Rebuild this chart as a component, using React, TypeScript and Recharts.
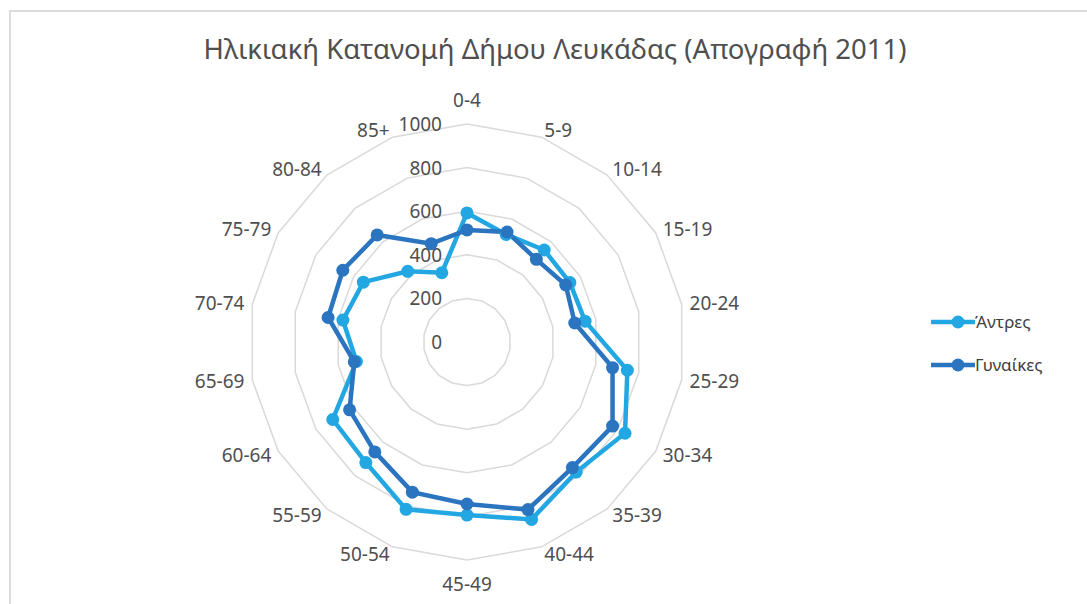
import React from "react";
import {
  RadarChart,
  Radar,
  PolarGrid,
  PolarAngleAxis,
  PolarRadiusAxis,
  Legend,
} from "recharts";

const ageGroups = [
  "0-4", "5-9", "10-14", "15-19", "20-24", "25-29", "30-34", "35-39", "40-44",
  "45-49", "50-54", "55-59", "60-64", "65-69", "70-74", "75-79", "80-84", "85+",
];
const men = [592, 525, 551, 545, 550, 747, 837, 779, 866, 794, 817, 722, 711, 515, 578, 549, 423, 338];
const women = [514, 537, 495, 523, 502, 678, 771, 752, 818, 743, 733, 658, 622, 525, 647, 658, 641, 480];
const radiusTicks = [0, 200, 400, 600, 800, 1000];

const seriesNames = ["Άντρες", "Γυναίκες"];
const seriesColors = ["#22a7e2", "#2a74c0"];

const data = ageGroups.map((g, i) => ({ group: g, men: men[i], women: women[i] }));

const CX = 467;
const CY = 342;
const FONT = "'Noto Sans', 'DejaVu Sans', sans-serif";
const TEXT = "#4f4f4f";

const AngleTick = (props: any) => {
  const { x, y, textAnchor, payload } = props;
  // top and bottom labels sit a bit further out, like Excel
  let dy = 0;
  if (textAnchor === "middle") dy = y < CY ? -16 : 16;
  return (
    <text
      x={x}
      y={y + dy}
      textAnchor={textAnchor}
      dominantBaseline="central"
      fill={TEXT}
      fontSize={19}
      fontFamily={FONT}
    >
      {payload.value}
    </text>
  );
};

const RadiusTick = (props: any) => {
  const { x, y, payload } = props;
  return (
    <text
      x={x - 25}
      y={y}
      textAnchor="end"
      dominantBaseline="central"
      fill={TEXT}
      fontSize={19}
      fontFamily={FONT}
    >
      {payload.value}
    </text>
  );
};

const makeDot = (color: string) => (props: any) => {
  const { cx, cy, index } = props;
  return <circle key={`dot-${index}`} cx={cx} cy={cy} r={6.5} fill={color} stroke="none" />;
};

const renderLegend = () => (
  <div style={{ fontFamily: FONT, fontSize: 17, color: "#404040" }}>
    {seriesNames.map((name, i) => (
      <div key={name} style={{ display: "flex", alignItems: "center", height: 43 }}>
        <svg width={44} height={14}>
          <line x1={0} y1={7} x2={44} y2={7} stroke={seriesColors[i]} strokeWidth={4.5} />
          <circle cx={27} cy={7} r={6.5} fill={seriesColors[i]} />
        </svg>
        <span>{name}</span>
      </div>
    ))}
  </div>
);

export default function App() {
  return (
    <div style={{ position: "absolute", left: 0, top: 0, width: 1087, height: 604, background: "#fff", overflow: "hidden" }}>
      <div
        style={{
          position: "absolute",
          left: 9,
          top: 10,
          width: 1100,
          height: 620,
          borderTop: "2px solid #dcdcdc",
          borderLeft: "2px solid #dcdcdc",
        }}
      />
      <div
        style={{
          position: "absolute",
          left: 0,
          width: 1110,
          top: 30,
          textAlign: "center",
          fontFamily: FONT,
          fontSize: 27.5,
          color: TEXT,
        }}
      >
        Ηλικιακή Κατανομή Δήμου Λευκάδας (Απογραφή 2011)
      </div>
      <RadarChart
        width={1087}
        height={604}
        data={data}
        cx={CX}
        cy={CY}
        outerRadius={218}
        margin={{ top: 0, right: 0, bottom: 0, left: 0 }}
        style={{ position: "absolute", left: 0, top: 0 }}
      >
        <PolarGrid gridType="polygon" radialLines={false} stroke="#d9d9d9" strokeWidth={1.5} />
        <PolarAngleAxis dataKey="group" tick={<AngleTick />} tickLine={false} axisLine={false} />
        <PolarRadiusAxis
          angle={90}
          domain={[0, 1000]}
          ticks={radiusTicks}
          axisLine={false}
          tick={<RadiusTick />}
        />
        <Radar
          name={seriesNames[0]}
          dataKey="men"
          stroke={seriesColors[0]}
          strokeWidth={4.5}
          fill="none"
          fillOpacity={0}
          dot={makeDot(seriesColors[0])}
          isAnimationActive={false}
        />
        <Radar
          name={seriesNames[1]}
          dataKey="women"
          stroke={seriesColors[1]}
          strokeWidth={4.5}
          fill="none"
          fillOpacity={0}
          dot={makeDot(seriesColors[1])}
          isAnimationActive={false}
        />
        <Legend
          content={renderLegend}
          wrapperStyle={{ position: "absolute", left: 931, top: 300, width: 150 }}
        />
      </RadarChart>
    </div>
  );
}
